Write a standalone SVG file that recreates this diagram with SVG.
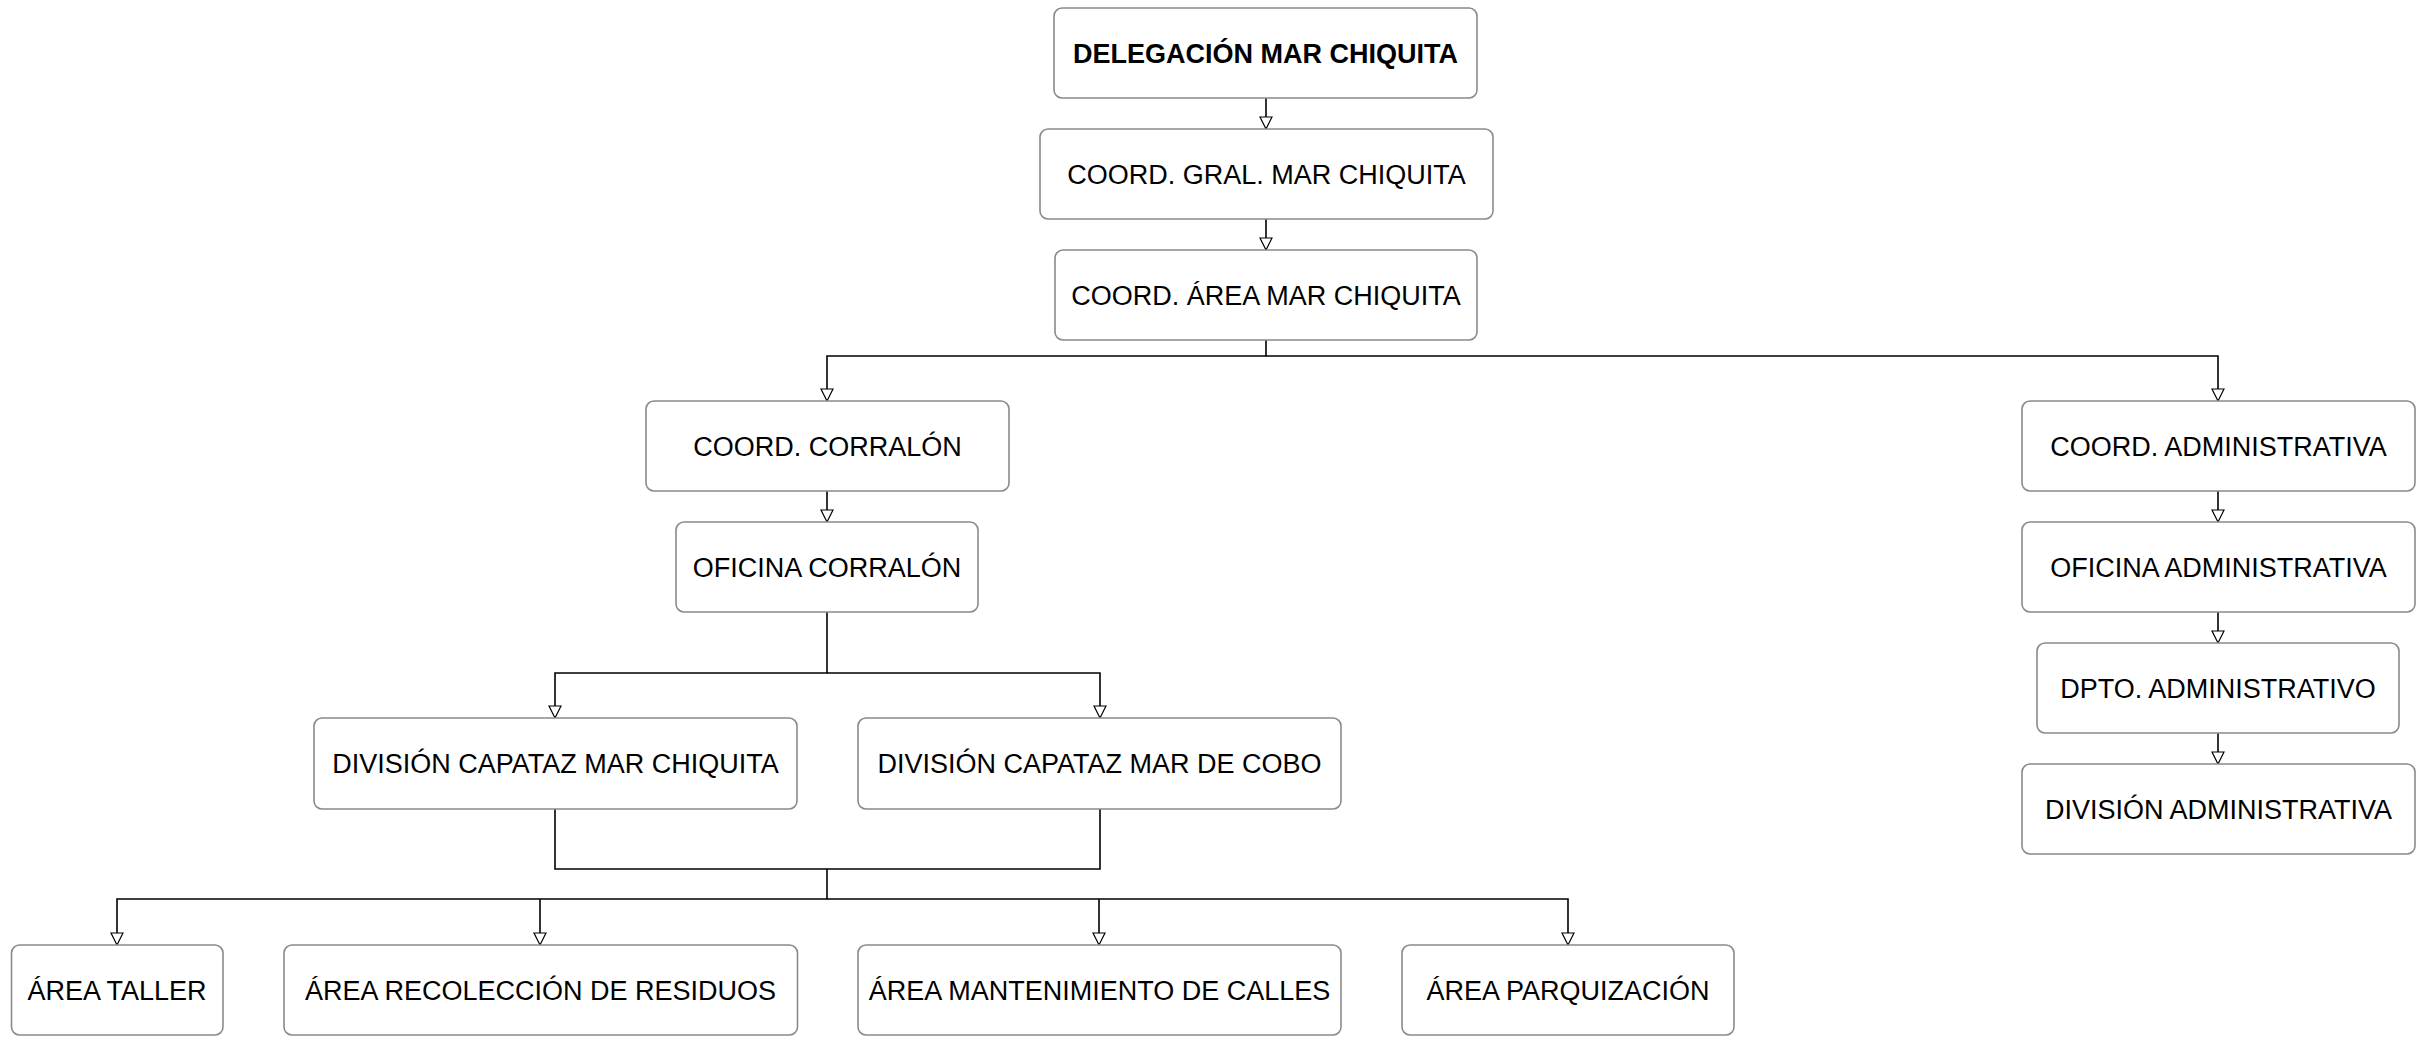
<svg xmlns="http://www.w3.org/2000/svg" width="2422" height="1037" viewBox="0 0 2422 1037">
<style>
.box{fill:#ffffff;stroke:#8a8a8a;stroke-width:1.6}
.lbl{font-family:"Liberation Sans",Arial,sans-serif;font-size:27px;fill:#000;text-anchor:middle}
.bold{font-weight:bold}
.con{fill:none;stroke:#000;stroke-width:1.6}
</style>
<defs>
<marker id="arr" viewBox="0 0 12 12" refX="12" refY="6" markerWidth="12" markerHeight="12" markerUnits="userSpaceOnUse" orient="auto" overflow="visible">
<path d="M0,0 L12,6 L0,12 Z" fill="#fff" stroke="#000" stroke-width="1.2"/>
</marker>
</defs>
<rect x="0" y="0" width="2422" height="1037" fill="#ffffff"/>
<g id="connectors">
<path class="con" d="M1266,98 V129" marker-end="url(#arr)"/>
<path class="con" d="M1266,219 V250" marker-end="url(#arr)"/>
<path class="con" d="M1266,340 V356 H827 V401" marker-end="url(#arr)"/>
<path class="con" d="M1266,356 H2218 V401" marker-end="url(#arr)"/>
<path class="con" d="M827,491 V522" marker-end="url(#arr)"/>
<path class="con" d="M827,612 V673 H555 V718" marker-end="url(#arr)"/>
<path class="con" d="M827,673 H1100 V718" marker-end="url(#arr)"/>
<path class="con" d="M555,809 V869 H1100 V809"/>
<path class="con" d="M827,869 V899 H117 V945" marker-end="url(#arr)"/>
<path class="con" d="M540,899 V945" marker-end="url(#arr)"/>
<path class="con" d="M1099,899 V945" marker-end="url(#arr)"/>
<path class="con" d="M827,899 H1568 V945" marker-end="url(#arr)"/>
<path class="con" d="M2218,491 V522" marker-end="url(#arr)"/>
<path class="con" d="M2218,612 V643" marker-end="url(#arr)"/>
<path class="con" d="M2218,733 V764" marker-end="url(#arr)"/>
</g>
<g id="n-delegacion"><rect class="box" x="1054" y="8" width="423" height="90" rx="8"/><text class="lbl bold" x="1265.5" y="62.5">DELEGACIÓN MAR CHIQUITA</text></g>
<g id="n-coord-gral"><rect class="box" x="1040" y="129" width="453" height="90" rx="8"/><text class="lbl" x="1266.5" y="183.5">COORD. GRAL. MAR CHIQUITA</text></g>
<g id="n-coord-area"><rect class="box" x="1055" y="250" width="422" height="90" rx="8"/><text class="lbl" x="1266" y="304.5">COORD. ÁREA MAR CHIQUITA</text></g>
<g id="n-coord-corralon"><rect class="box" x="646" y="401" width="363" height="90" rx="8"/><text class="lbl" x="827.5" y="455.5">COORD. CORRALÓN</text></g>
<g id="n-oficina-corralon"><rect class="box" x="676" y="522" width="302" height="90" rx="8"/><text class="lbl" x="827" y="576.5">OFICINA CORRALÓN</text></g>
<g id="n-div-mar-chiquita"><rect class="box" x="314" y="718" width="483" height="91" rx="8"/><text class="lbl" x="555.5" y="773">DIVISIÓN CAPATAZ MAR CHIQUITA</text></g>
<g id="n-div-mar-de-cobo"><rect class="box" x="858" y="718" width="483" height="91" rx="8"/><text class="lbl" x="1099.5" y="773">DIVISIÓN CAPATAZ MAR DE COBO</text></g>
<g id="n-area-taller"><rect class="box" x="11.5" y="945" width="211.5" height="90" rx="8"/><text class="lbl" x="117" y="999.5">ÁREA TALLER</text></g>
<g id="n-area-recoleccion"><rect class="box" x="284" y="945" width="513.5" height="90" rx="8"/><text class="lbl" x="540.5" y="999.5">ÁREA RECOLECCIÓN DE RESIDUOS</text></g>
<g id="n-area-mantenimiento"><rect class="box" x="858" y="945" width="483" height="90" rx="8"/><text class="lbl" x="1099.5" y="999.5">ÁREA MANTENIMIENTO DE CALLES</text></g>
<g id="n-area-parquizacion"><rect class="box" x="1402" y="945" width="332" height="90" rx="8"/><text class="lbl" x="1568" y="999.5">ÁREA PARQUIZACIÓN</text></g>
<g id="n-coord-admin"><rect class="box" x="2022" y="401" width="393" height="90" rx="8"/><text class="lbl" x="2218.5" y="455.5">COORD. ADMINISTRATIVA</text></g>
<g id="n-oficina-admin"><rect class="box" x="2022" y="522" width="393" height="90" rx="8"/><text class="lbl" x="2218.5" y="576.5">OFICINA ADMINISTRATIVA</text></g>
<g id="n-dpto-admin"><rect class="box" x="2037" y="643" width="362" height="90" rx="8"/><text class="lbl" x="2218" y="697.5">DPTO. ADMINISTRATIVO</text></g>
<g id="n-div-admin"><rect class="box" x="2022" y="764" width="393" height="90" rx="8"/><text class="lbl" x="2218.5" y="818.5">DIVISIÓN ADMINISTRATIVA</text></g>
</svg>
